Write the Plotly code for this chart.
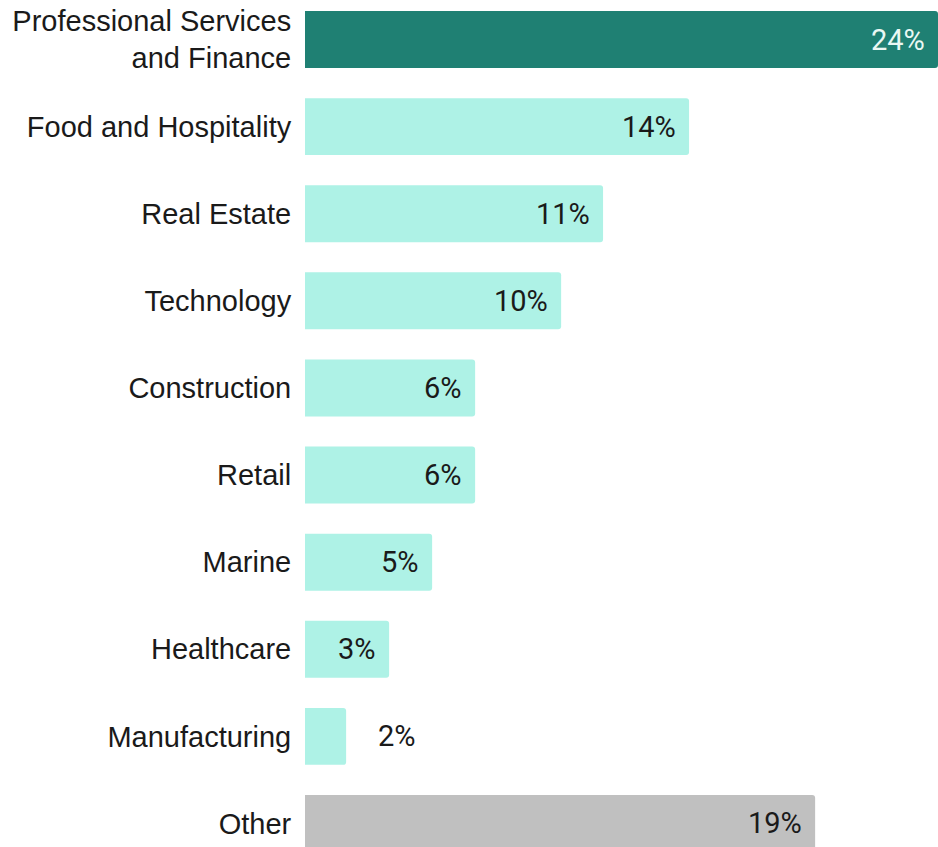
import plotly.graph_objects as go

categories = [
    "Professional Services<br>and Finance",
    "Food and Hospitality",
    "Real Estate",
    "Technology",
    "Construction",
    "Retail",
    "Marine",
    "Healthcare",
    "Manufacturing",
    "Other",
]
values = [23.7, 14.38, 11.16, 9.59, 6.37, 6.37, 4.76, 3.15, 1.54, 19.1]
labels = [f"{round(v)}%" for v in values]

DARK = "#1f8073"
MINT = "#aef2e6"
GREY = "#c0c0c0"
colors = [DARK] + [MINT] * 8 + [GREY]

fig = go.Figure(
    go.Bar(
        x=values,
        y=categories,
        orientation="h",
        marker=dict(color=colors, line=dict(width=0), cornerradius=3),
        hoverinfo="skip",
    )
)

annotations = []
for i, (cat, v, lab) in enumerate(zip(categories, values, labels)):
    inside = v >= 3
    annotations.append(
        dict(
            x=v,
            y=cat,
            text=lab,
            showarrow=False,
            xanchor="right" if inside else "left",
            xshift=-11 if inside else 30,
            font=dict(
                family="Roboto, Arial, sans-serif",
                size=29,
                color="#eaf8f4" if i == 0 else "#1a1a1a",
            ),
        )
    )

fig.update_layout(
    width=938,
    height=847,
    margin=dict(l=305, r=0, t=0, b=0),
    paper_bgcolor="white",
    plot_bgcolor="white",
    bargap=0.346,
    showlegend=False,
    annotations=annotations,
    xaxis=dict(
        range=[0, 23.7],
        visible=False,
        showgrid=False,
        zeroline=False,
    ),
    yaxis=dict(
        type="category",
        range=[9.27, -0.4535],
        showgrid=False,
        zeroline=False,
        showline=False,
        ticks="outside",
        ticklen=7,
        tickcolor="rgba(0,0,0,0)",
        tickfont=dict(family="Liberation Sans, Arial, sans-serif", size=29, color="#1a1a1a"),
    ),
)

fig.write_html(
    "out.html",
    config={"displayModeBar": False},
    post_script="document.body.style.margin='0';document.body.style.overflow='hidden';",
)
